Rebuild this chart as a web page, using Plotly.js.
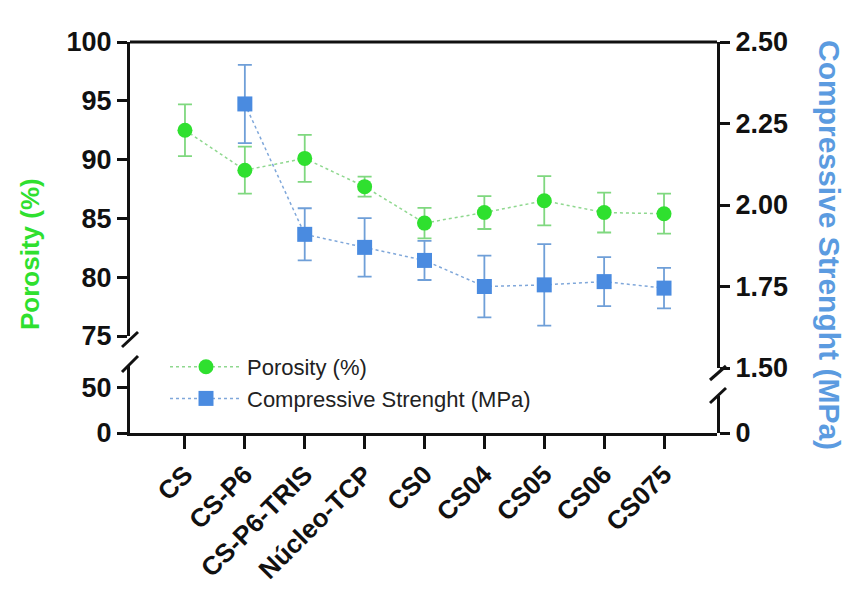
<!DOCTYPE html>
<html>
<head>
<meta charset="utf-8">
<script src="https://cdn.plot.ly/plotly-3.0.1.min.js"></script>
<style>html,body{margin:0;padding:0;background:#fff;}#chart{width:847px;height:593px;}</style>
</head>
<body>
<div id="chart"></div>
<script>
const categories = ["CS","CS-P6","CS-P6-TRIS","Núcleo-TCP","CS0","CS04","CS05","CS06","CS075"];
const porosity = [92.5, 89.1, 90.1, 87.7, 84.6, 85.5, 86.5, 85.5, 85.4];
const porosityErr = [2.2, 2.0, 2.0, 0.85, 1.3, 1.4, 2.1, 1.7, 1.7];
const strength = [null, 2.31, 1.91, 1.87, 1.83, 1.75, 1.755, 1.765, 1.745];
const strengthErr = [null, 0.12, 0.08, 0.09, 0.06, 0.095, 0.125, 0.075, 0.062];
const leftUpperTicks = [75, 80, 85, 90, 95, 100];
const leftLowerTicks = [0, 50];
const rightUpperTicks = [1.5, 1.75, 2.0, 2.25, 2.5];
const rightLowerTicks = [0];

const GREEN = '#2fe02f';
const BLUE = '#4a8be0';
const FONT = 'Liberation Sans, Arial, Helvetica, sans-serif';

const W = 847, H = 593, L = 130, R = 130, T = 42, B = 160;
const PW = W - L - R, PH = H - T - B;
const px = x => (x - L) / PW;
const py = y => (H - B - y) / PH;

const traces = [
  {
    x: categories, y: porosity, xaxis: 'x', yaxis: 'y',
    name: 'Porosity (%)', legendgroup: 'a',
    mode: 'lines+markers', type: 'scatter',
    line: {color: '#8fd88f', width: 1.5, dash: 'dot'},
    marker: {color: GREEN, size: 15, symbol: 'circle'},
    error_y: {type: 'data', array: porosityErr, visible: true, color: '#7fd87f', thickness: 1.8, width: 7}
  },
  {
    x: categories, y: strength, xaxis: 'x', yaxis: 'y3',
    name: 'Compressive Strenght (MPa)', legendgroup: 'b',
    mode: 'lines+markers', type: 'scatter', connectgaps: false,
    line: {color: '#7fa7da', width: 1.5, dash: 'dot'},
    marker: {color: BLUE, size: 15, symbol: 'square'},
    error_y: {type: 'data', array: strengthErr, visible: true, color: '#6f9fd8', thickness: 1.8, width: 7}
  },
  {x: [], y: [], xaxis: 'x', yaxis: 'y2', type: 'scatter', mode: 'markers', showlegend: false, hoverinfo: 'skip'},
  {x: [], y: [], xaxis: 'x', yaxis: 'y4', type: 'scatter', mode: 'markers', showlegend: false, hoverinfo: 'skip'}
];

const tickFont = {family: FONT, size: 27, color: '#111', weight: 'bold'};
const yCommon = {
  showline: true, linewidth: 3, linecolor: '#111', ticks: 'outside', ticklen: 10, tickwidth: 3,
  tickcolor: '#111', showgrid: false, zeroline: false, tickfont: tickFont, fixedrange: true
};

const sl = (x0, y0, x1, y1) => ({type: 'line', xref: 'paper', yref: 'paper',
  x0: px(x0), y0: py(y0), x1: px(x1), y1: py(y1), line: {color: '#111', width: 3}});

const layout = {
  width: W, height: H,
  margin: {l: L, r: R, t: T, b: B},
  paper_bgcolor: '#fff', plot_bgcolor: 'rgba(0,0,0,0)',
  showlegend: true,
  legend: {
    x: px(165), y: py(346), xanchor: 'left', yanchor: 'top',
    font: {family: FONT, size: 22, color: '#222'},
    bgcolor: 'rgba(0,0,0,0)', itemwidth: 72, tracegroupgap: 0, traceorder: 'grouped'
  },
  xaxis: {
    domain: [0, 1], anchor: 'y2', type: 'category', range: [-0.918, 8.885],
    showline: true, linewidth: 3, linecolor: '#111', ticks: 'outside', ticklen: 13, tickwidth: 3,
    tickcolor: '#111', showgrid: false, zeroline: false, tickangle: -45,
    tickfont: {family: FONT, size: 26, color: '#111', weight: 'bold'}
  },
  yaxis: Object.assign({}, yCommon, {domain: [py(336), 1], range: [75, 100], anchor: 'x', side: 'left', tickvals: leftUpperTicks}),
  yaxis2: Object.assign({}, yCommon, {domain: [0, py(365)], range: [0, 75], anchor: 'x', side: 'left', tickvals: leftLowerTicks}),
  yaxis3: Object.assign({}, yCommon, {domain: [py(368), 1], range: [1.5, 2.5], anchor: 'x', side: 'right', tickvals: rightUpperTicks, tickformat: '.2f'}),
  yaxis4: Object.assign({}, yCommon, {domain: [0, py(396)], range: [0, 1], anchor: 'x', side: 'right', tickvals: rightLowerTicks}),
  shapes: [
    {type: 'line', xref: 'paper', yref: 'paper', x0: 0, x1: 1, y0: 1, y1: 1, line: {color: '#111', width: 3}},
    sl(122, 347, 138, 332),
    sl(122, 372, 138, 356),
    sl(710, 380, 726, 366),
    sl(710, 403, 726, 388)
  ],
  annotations: [
    {text: 'Porosity (%)', xref: 'paper', yref: 'paper', x: px(30), y: py(254), textangle: -90,
     showarrow: false, xanchor: 'center', yanchor: 'middle',
     font: {family: FONT, size: 26, color: GREEN, weight: 'bold'}},
    {text: 'Compressive Strenght (MPa)', xref: 'paper', yref: 'paper', x: px(829), y: py(245), textangle: 90,
     showarrow: false, xanchor: 'center', yanchor: 'middle',
     font: {family: FONT, size: 30, color: '#5b9be0', weight: 'bold'}}
  ]
};

Plotly.newPlot('chart', traces, layout, {displayModeBar: false, staticPlot: true});
</script>
</body>
</html>
